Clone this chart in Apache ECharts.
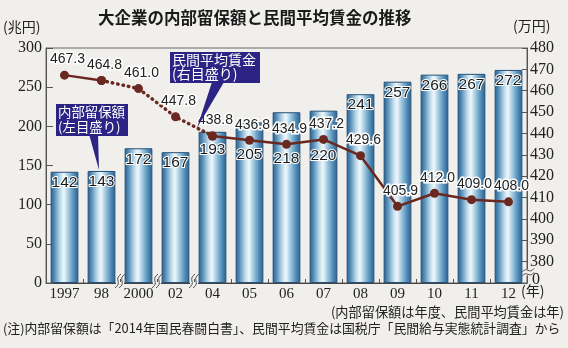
<!DOCTYPE html>
<html><head><meta charset="utf-8">
<script src="https://cdn.jsdelivr.net/npm/echarts@6/dist/echarts.min.js"></script>
<style>html,body{margin:0;padding:0;background:#f0efec;}#c{width:568px;height:348px;}</style>
</head><body><div id="c"></div>
<script>
const categories = ['1997','98','2000','02','04','05','06','07','08','09','10','11','12'];
const retained = [142,143,172,167,193,205,218,220,241,257,266,267,272];
const wages = [467.3,464.8,461.0,447.8,438.8,436.8,434.9,437.2,429.6,405.9,412.0,409.0,408.0];
const leftTicks = [0,50,100,150,200,250,300];
const rightTicks = [370,380,390,400,410,420,430,440,450,460,470,480];
const dottedIdx = [1,2,3,4]; // points joined by the dotted segment (98→04)

const chart = echarts.init(document.getElementById('c'), null, {renderer:'canvas'});
const serif = '"Liberation Serif","DejaVu Serif",serif';
const sans = '"Liberation Sans",Arial,sans-serif';
const jp = '"Noto Sans CJK JP",sans-serif';
const lineColor = '#6b2820';
const bg = '#f0efec';
const barLabelDist = {4:10,5:24,6:38,7:37};

const barGrad = new echarts.graphic.LinearGradient(0,0,1,0,[
  {offset:0,color:'#2b5f8a'},{offset:0.12,color:'#4d87b3'},{offset:0.35,color:'#bfdcec'},
  {offset:0.48,color:'#f1f8fb'},{offset:0.62,color:'#a9cfe4'},{offset:0.85,color:'#4e89b6'},{offset:1,color:'#2c618c'}]);

const solidData = wages.map((v,i)=> (i===2||i===3) ? null : v);
const dottedData = wages.map((v,i)=> dottedIdx.includes(i) ? v : null);

const lineLabel = {show:true, position:'top', distance:4, offset:[3,0], color:'#222', fontFamily:sans, fontSize:14,
  textBorderColor:'#fff', textBorderWidth:3};

function txt(id, pos, text, size, extra){
  return Object.assign({type:'text',id:id,z:25,style:Object.assign({text:text,fontSize:size,fontFamily:jp,fill:'#222'},extra||{})},pos);
}

chart.setOption({
  backgroundColor:bg,
  animation:false,
  grid:{left:46,right:41,top:48,bottom:65,show:true,borderColor:'#666',borderWidth:1,backgroundColor:'transparent'},
  xAxis:{type:'category',data:categories,
    axisLine:{lineStyle:{color:'#444',width:1}},
    axisTick:{show:true,inside:true,length:4,lineStyle:{color:'#555'}},
    axisLabel:{interval:0,color:'#222',fontFamily:serif,fontSize:15,margin:4}},
  yAxis:[
    {type:'value',min:leftTicks[0],max:leftTicks[leftTicks.length-1],interval:50,
     axisLine:{show:true,lineStyle:{color:'#555'}},
     axisTick:{show:true,inside:true,length:7,lineStyle:{color:'#555'}},
     splitLine:{show:false},
     axisLabel:{color:'#222',fontFamily:serif,fontSize:16,margin:4}},
    {type:'value',min:rightTicks[0],max:rightTicks[rightTicks.length-1],interval:10,position:'right',
     axisLine:{show:true,lineStyle:{color:'#555'}},
     axisTick:{show:true,inside:true,length:5,lineStyle:{color:'#555'}},
     splitLine:{show:false},
     axisLabel:{color:'#222',fontFamily:serif,fontSize:16,margin:3,
       formatter:v=> v===rightTicks[0]?'':String(v)}}
  ],
  series:[
    {type:'bar',data:retained.map((v,i)=>({value:v,label:{distance: barLabelDist[i]!==undefined?barLabelDist[i]:3}})),
     barCategoryGap:'25%',
     itemStyle:{color:barGrad,borderColor:'#27527a',borderWidth:1},
     label:{show:true,position:'insideTop',color:'#1a1a1a',fontFamily:sans,fontSize:15.5,textBorderColor:'#fff',textBorderWidth:2},
     z:2},
    {type:'line',yAxisIndex:1,data:dottedData,connectNulls:false,
     lineStyle:{color:lineColor,width:3.5,type:[0.5,5],cap:'round'},
     symbol:'circle',symbolSize:9,itemStyle:{color:lineColor},
     label:Object.assign({},lineLabel,{formatter:p=> (p.dataIndex===2||p.dataIndex===3)? Number(p.value).toFixed(1):''}),
     z:4},
    {type:'line',yAxisIndex:1,data:solidData,connectNulls:false,
     lineStyle:{color:lineColor,width:2.5},
     symbol:'circle',symbolSize:9,itemStyle:{color:lineColor},
     label:Object.assign({},lineLabel,{formatter:p=> p.value==null?'':Number(p.value).toFixed(1)}),
     z:5}
  ],
  graphic:[
    txt('title',{left:98,top:9},'大企業の内部留保額と民間平均賃金の推移',16.5,{fontWeight:'bold',fill:'#1a1a1a'}),
    txt('lunit',{left:3,top:20},'(兆円)',14),
    txt('runit',{left:513,top:19},'(万円)',14),
    txt('year',{left:521,top:284},'(年)',14),
    txt('note1',{right:4,top:305},'(内部留保額は年度、民間平均賃金は年)',13.2),
    txt('note2',{left:3,top:322},'(注)内部留保額は「2014年国民春闘白書」、民間平均賃金は国税庁「民間給与実態統計調査」から',12.85),
    {type:'polygon',id:'p1',shape:{points:[[89,134],[98,134],[99,170]]},style:{fill:'#2b2484'},z:20},
    {type:'rect',id:'r1',shape:{x:56,y:104,width:72,height:32},style:{fill:'#2b2484'},z:20},
    txt('t1',{left:58,top:104},'内部留保額\n(左目盛り)',13.4,{fill:'#fff',lineHeight:15}),
    {type:'polygon',id:'p2',shape:{points:[[212,82],[224,82],[197,128]]},style:{fill:'#2b2484'},z:20},
    {type:'rect',id:'r2',shape:{x:170,y:52,width:90,height:31},style:{fill:'#2b2484'},z:20},
    txt('t2',{left:172,top:52},'民間平均賃金\n(右目盛り)',14,{fill:'#fff',lineHeight:14.5})
  ]
});

// axis break marks (decoration)
const extra = [];
const y0 = chart.convertToPixel({yAxisIndex:0},0);
[1,2,3].forEach(i=>{
  const a = chart.convertToPixel({xAxisIndex:0},categories[i]);
  const b = chart.convertToPixel({xAxisIndex:0},categories[i+1]);
  const x = (a+b)/2;
  extra.push({type:'rect',shape:{x:x-4,y:y0-1,width:8,height:2},style:{fill:bg},z:29});
  [-2,2].forEach(d=>{
    extra.push({type:'bezierCurve',shape:{x1:x+d-3,y1:y0+5,x2:x+d+3,y2:y0-9,cpx1:x+d+5,cpy1:y0-1,cpx2:x+d-5,cpy2:y0-3},
      style:{stroke:'#555',lineWidth:1,fill:null},z:30});
  });
});
const xr = chart.getWidth()-41;
const yb = chart.convertToPixel({yAxisIndex:1},375);
const yMin = chart.convertToPixel({yAxisIndex:1},rightTicks[0]);
extra.push({type:'rect',shape:{x:xr-1,y:yb-3,width:3,height:6},style:{fill:bg},z:29});
[-2,2].forEach(d=>{
  extra.push({type:'bezierCurve',shape:{x1:xr-5,y1:yb+d+2,x2:xr+7,y2:yb+d-2,cpx1:xr,cpy1:yb+d-5,cpx2:xr+2,cpy2:yb+d+5},
    style:{stroke:'#555',lineWidth:1,fill:null},z:30});
});
extra.push({type:'text',x:xr+5,y:yMin-11,style:{text:'0',fontSize:16,fontFamily:serif,fill:'#222'},z:30});
chart.setOption({graphic: extra.map((e,k)=>Object.assign({id:'brk'+k},e))});
</script>
</body></html>
